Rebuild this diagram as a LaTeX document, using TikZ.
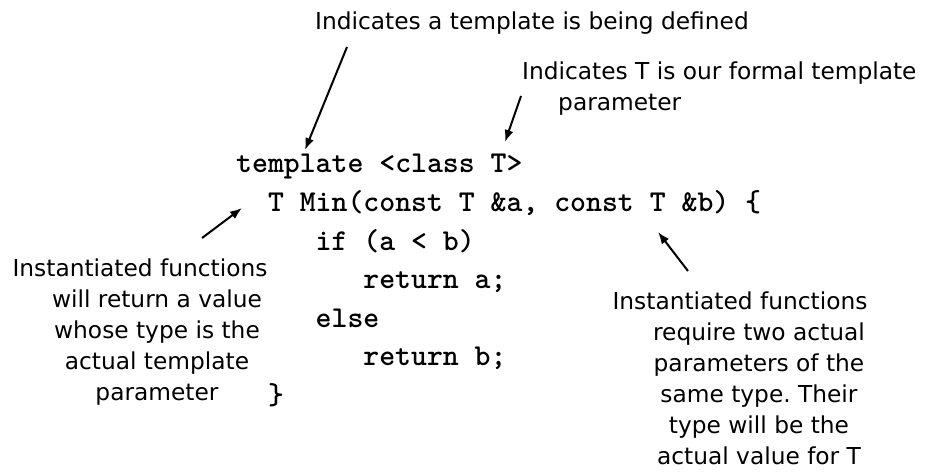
\documentclass[tikz,border=0pt]{standalone}
\usepackage{fontspec}
\setmainfont{DejaVu Sans}
\usetikzlibrary{arrows.meta}
\frenchspacing
\tikzset{
  note/.style={font=\fontsize{23.3}{31}\selectfont, inner sep=0pt, anchor=base},
  notel/.style={note, anchor=base west},
  code/.style={font={\ttfamily\bfseries\fontsize{30.3}{38.5}\selectfont}, inner sep=0pt, anchor=base west},
  ptr/.style={line width=2pt, -{Latex[length=12pt,width=9pt]}},
}
\begin{document}
\begin{tikzpicture}[x=1pt,y=-1pt]
\path[use as bounding box] (0,0) rectangle (927,476);
% top annotations
\node[note] (t1) at (532,30) {Indicates a template is being defined};
\node[notel] (p1) at (522,80) {Indicates T is our formal template};
\node[notel] (p2) at (558,111) {parameter};
% code
\node[code] (c1) at (236,173) {template <class T>};
\node[code] (c2) at (267.8,211.5) {T Min(const T \&a, const T \&b) \{};
\node[code] (c3) at (315.5,250) {if (a < b)};
\node[code] (c4) at (363.2,288.5) {return a;};
\node[code] (c5) at (315.5,327) {else};
\node[code] (c6) at (363.2,365.5) {return b;};
\node[code] (c7) at (267.8,404) {\}};
% left annotation
\node[note] (l1) at (140,276) {Instantiated functions};
\node[note] (l2) at (157,307) {will return a value};
\node[note] (l3) at (157,338) {whose type is the};
\node[note] (l4) at (157,369) {actual template};
\node[note] (l5) at (157,400) {parameter};
% right annotation
\node[note] (r1) at (740,309) {Instantiated functions};
\node[note] (r2) at (759,340) {require two actual};
\node[note] (r3) at (759,371) {parameters of the};
\node[note] (r4) at (759,402) {same type. Their};
\node[note] (r5) at (759,433) {type will be the};
\node[note] (r6) at (759,464) {actual value for T};
% arrow end points
\coordinate (a1s) at (347,47);  \coordinate (a1e) at (305,150);
\coordinate (a2s) at (521,96);  \coordinate (a2e) at (505,142);
\coordinate (a3s) at (202,238); \coordinate (a3e) at (242,208);
\coordinate (a4s) at (688,271); \coordinate (a4e) at (658,232);
\draw[ptr] (a1s) -- (a1e);
\draw[ptr] (a2s) -- (a2e);
\draw[ptr] (a3s) -- (a3e);
\draw[ptr] (a4s) -- (a4e);
\end{tikzpicture}
\end{document}
